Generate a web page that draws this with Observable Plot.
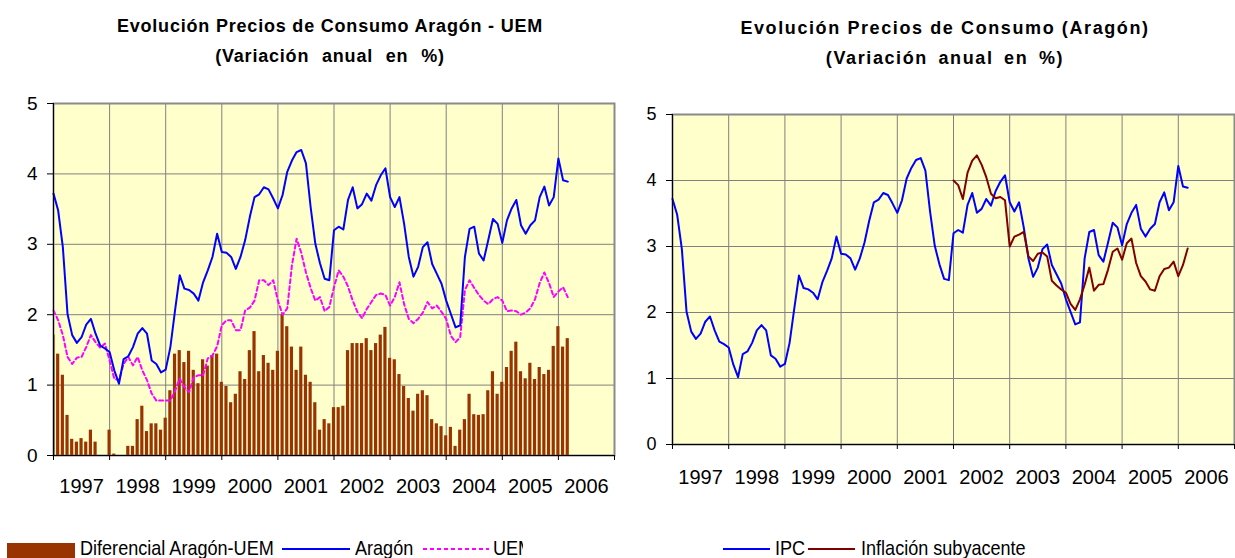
<!DOCTYPE html>
<html><head><meta charset="utf-8">
<script src="https://cdn.jsdelivr.net/npm/d3@7"></script>
<script src="https://cdn.jsdelivr.net/npm/@observablehq/plot@0.6"></script>
<style>
body{margin:0;background:#fff;}
#wrap{position:relative;width:1235px;height:558px;overflow:hidden;font-family:"Liberation Sans",Arial,sans-serif;color:#000;}
.title{position:absolute;text-align:center;font-weight:bold;font-size:18px;line-height:30px;white-space:nowrap;}
.panel{position:absolute;}
.lt{position:absolute;top:537px;font-size:21px;line-height:21px;white-space:nowrap;transform:scaleX(0.86);transform-origin:0 0;}
.ls{position:absolute;}
</style></head>
<body><div id="wrap">
<div class="title" style="left:30px;width:600px;top:11px;letter-spacing:0.8px;">Evolución Precios de Consumo Aragón - UEM<br><span style="word-spacing:7px;">(Variación anual en %)</span></div>
<div class="title" style="left:645px;width:600px;top:13px;letter-spacing:1.6px;">Evolución Precios de Consumo (Aragón)<br><span style="word-spacing:4px;">(Variación anual en %)</span></div>
<div id="left" class="panel" style="left:0;top:80px;"></div>
<div id="right" class="panel" style="left:620px;top:90px;"></div>
<div id="legL" style="position:absolute;left:0;top:0;width:523px;height:558px;overflow:hidden;"></div>
<div id="legR" style="position:absolute;left:0;top:0;width:1235px;height:558px;"></div>
</div>
<script>
// Month index 0 = Jan 1997 ... 110 = Mar 2006
const yearLabels = ["1997","1998","1999","2000","2001","2002","2003","2004","2005","2006"];
const aragon = [3.72,3.48,2.96,2.01,1.71,1.60,1.68,1.86,1.94,1.73,1.56,1.52,
1.47,1.21,1.02,1.37,1.41,1.54,1.73,1.81,1.73,1.35,1.30,1.18,
1.22,1.54,2.06,2.56,2.37,2.35,2.30,2.20,2.46,2.63,2.82,3.15,
2.89,2.88,2.82,2.65,2.82,3.06,3.39,3.67,3.71,3.81,3.78,3.65,
3.51,3.70,4.03,4.19,4.31,4.34,4.15,3.53,3.01,2.73,2.51,2.49,
3.20,3.25,3.21,3.63,3.81,3.51,3.57,3.72,3.62,3.84,3.98,4.08,
3.67,3.53,3.67,3.29,2.82,2.54,2.68,2.96,3.03,2.72,2.58,2.44,
2.20,2.01,1.82,1.85,2.82,3.22,3.25,2.87,2.77,3.06,3.36,3.29,
3.02,3.34,3.51,3.63,3.27,3.15,3.27,3.34,3.67,3.82,3.55,3.67,
4.22,3.91,3.89];
const uem = [2.06,1.92,1.71,1.40,1.30,1.39,1.40,1.54,1.71,1.61,1.53,1.59,
1.35,1.09,1.07,1.30,1.40,1.28,1.40,1.21,1.07,0.88,0.78,0.78,
0.78,0.78,0.92,1.09,0.97,0.90,1.11,1.14,1.14,1.38,1.42,1.55,
1.85,1.92,1.92,1.78,1.78,2.06,2.10,2.20,2.49,2.49,2.42,2.49,
2.20,2.00,2.09,2.70,3.08,2.88,2.60,2.38,2.20,2.25,2.05,2.11,
2.39,2.63,2.54,2.40,2.20,2.04,1.95,2.08,2.18,2.28,2.30,2.28,
2.13,2.25,2.46,2.15,1.94,1.88,1.94,2.03,2.18,2.09,2.13,2.04,
1.94,1.70,1.61,1.68,2.35,2.49,2.38,2.28,2.20,2.15,2.22,2.25,
2.20,2.05,2.06,2.05,2.00,2.03,2.09,2.22,2.45,2.60,2.45,2.25,
2.33,2.39,2.25];
const diferencial = [1.71,1.44,1.14,0.57,0.23,0.19,0.24,0.19,0.36,0.19,0,0,
0.36,0.02,0,0,0.13,0.13,0.51,0.70,0.34,0.45,0.45,0.36,
0.53,0.92,1.44,1.49,1.32,1.48,1.21,1.02,1.36,1.27,1.42,1.44,
1.04,0.98,0.75,0.87,1.19,1.08,1.49,1.76,1.19,1.42,1.31,1.21,
1.48,2.00,1.83,1.54,1.21,1.54,1.14,1.04,0.75,0.36,0.51,0.45,
0.68,0.68,0.70,1.49,1.59,1.59,1.59,1.66,1.49,1.59,1.71,1.82,
1.38,1.36,1.15,0.98,0.81,0.63,0.87,0.92,0.85,0.51,0.45,0.41,
0.28,0.40,0.13,0.36,0.51,0.87,0.58,0.57,0.58,0.92,1.19,0.87,
1.04,1.25,1.48,1.61,1.19,1.09,1.31,1.08,1.25,1.15,1.21,1.55,
1.83,1.54,1.66];
// Inflación subyacente, from month index 60 (Jan 2002)
const subStart = 60;
const subyacente = [4.00,3.93,3.72,4.12,4.30,4.38,4.24,4.05,3.80,3.73,3.75,3.70,
3.00,3.15,3.18,3.22,2.85,2.78,2.89,2.91,2.85,2.48,2.41,2.35,
2.30,2.13,2.04,2.20,2.42,2.68,2.33,2.42,2.43,2.65,2.92,2.97,
2.80,3.05,3.12,2.75,2.55,2.47,2.35,2.33,2.55,2.66,2.68,2.77,
2.55,2.72,2.97];

const leftData = aragon.map((v,i)=>({i, aragon:v, uem:uem[i], dif:diferencial[i]}));
const subData = subyacente.map((v,k)=>({i:k+subStart, v}));
const yearTicks = d3.range(0,121,12);
const innerYears = d3.range(12,120,12);
const labelPos = d3.range(6,120,12);

function panel(opts){
  return Plot.plot({
    width: opts.width, height: opts.height,
    marginLeft: opts.ml, marginRight: opts.mr, marginTop: opts.mt, marginBottom: opts.mb,
    style: {fontFamily: "Liberation Sans, Arial, sans-serif", background: "transparent", overflow: "visible", color: "#000"},
    x: {domain: [0,120], axis: null},
    y: {domain: [0,5], axis: null},
    marks: [
      Plot.frame({fill: "#FFFFCC", stroke: null}),
      Plot.gridX(innerYears, {stroke: "#808080", strokeOpacity: 1, strokeWidth: 1}),
      Plot.gridY([1,2,3,4], {stroke: "#808080", strokeOpacity: 1, strokeWidth: 1}),
      Plot.frame({stroke: "#8a8a8a", strokeWidth: 2}),
      ...opts.marks,
      Plot.ruleX([0], {stroke: "#000", strokeWidth: 1}),
      Plot.ruleY([0], {stroke: "#000", strokeWidth: 1}),
      Plot.axisY([0,1,2,3,4,5], {label: null, tickSize: 6, tickPadding: 10, fontSize: opts.yfs, tickFormat: d => String(d), stroke: "#000"}),
      Plot.axisX(yearTicks, {label: null, tickSize: 5, tickFormat: () => "", stroke: "#000"}),
      Plot.axisX(labelPos, {label: null, tickSize: 0, tickPadding: opts.xpad, fontSize: opts.xfs, tickFormat: d => yearLabels[Math.round((d-6)/12)]})
    ]
  });
}

const left = panel({width: 620, height: 420, ml: 53, mr: 6, mt: 23, mb: 45, yfs: 19, xfs: 20, xpad: 23,
  marks: [
    Plot.rectY(leftData, {x1: d => d.i - 0.34, x2: d => d.i + 0.34, y1: 0, y2: "dif", fill: "#993300", clip: true}),
    Plot.line(leftData, {x: "i", y: "uem", stroke: "#FF00FF", strokeWidth: 2, strokeDasharray: "4,3"}),
    Plot.line(leftData, {x: "i", y: "aragon", stroke: "#0000FF", strokeWidth: 2})
  ]});
document.getElementById("left").appendChild(left);

const right = panel({width: 615, height: 410, ml: 52, mr: 1, mt: 24, mb: 56, yfs: 18, xfs: 20, xpad: 25,
  marks: [
    Plot.line(leftData, {x: "i", y: "aragon", stroke: "#0000FF", strokeWidth: 2}),
    Plot.line(subData, {x: "i", y: "v", stroke: "#800000", strokeWidth: 2})
  ]});
document.getElementById("right").appendChild(right);

// Legends
function legend(container, items){
  const el = document.getElementById(container);
  for (const it of items){
    if (it.type === "rect"){
      const d = document.createElement("div"); d.className = "ls";
      Object.assign(d.style, {left: it.x+"px", top: "543px", width: it.w+"px", height: "16px", background: it.color});
      el.appendChild(d);
    } else if (it.type === "line"){
      const s = document.createElementNS("http://www.w3.org/2000/svg","svg");
      s.setAttribute("width", it.w); s.setAttribute("height", 6);
      s.style.position = "absolute"; s.style.left = it.x+"px"; s.style.top = "546px";
      const l = document.createElementNS("http://www.w3.org/2000/svg","line");
      l.setAttribute("x1",0); l.setAttribute("x2",it.w); l.setAttribute("y1",3); l.setAttribute("y2",3);
      l.setAttribute("stroke", it.color); l.setAttribute("stroke-width", 2);
      if (it.dash) l.setAttribute("stroke-dasharray", it.dash);
      s.appendChild(l); el.appendChild(s);
    } else {
      const t = document.createElement("div"); t.className = "lt";
      t.style.left = it.x+"px"; t.textContent = it.text; el.appendChild(t);
    }
  }
}
legend("legL", [
  {type:"rect", x:7, w:68, color:"#993300"},
  {type:"text", x:80, text:"Diferencial Aragón-UEM"},
  {type:"line", x:282, w:68, color:"#0000FF"},
  {type:"text", x:355, text:"Aragón"},
  {type:"line", x:423, w:66, color:"#FF00FF", dash:"4,3"},
  {type:"text", x:493, text:"UEM"}
]);
legend("legR", [
  {type:"line", x:723, w:47, color:"#0000FF"},
  {type:"text", x:775, text:"IPC"},
  {type:"line", x:808, w:47, color:"#800000"},
  {type:"text", x:861, text:"Inflación subyacente"}
]);
</script>
</body></html>
